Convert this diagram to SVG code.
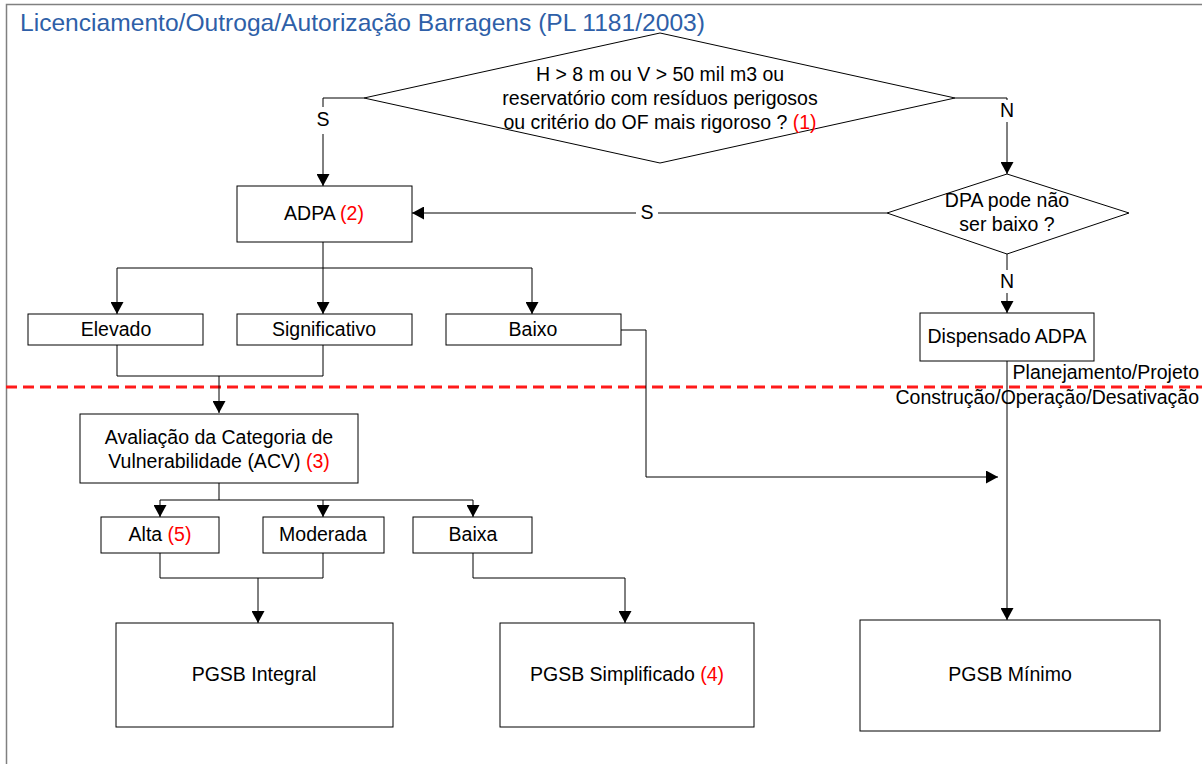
<svg xmlns="http://www.w3.org/2000/svg" width="1202" height="764" viewBox="0 0 1202 764">
  <style>
    .box { fill: #fff; stroke: #000; stroke-width: 1; }
    .ln { fill: none; stroke: #000; stroke-width: 1; }
    .arr { fill: none; stroke: #000; stroke-width: 1; marker-end: url(#ah); }
    .t { font-family: "Liberation Sans", Arial, sans-serif; font-size: 19.5px; fill: #000; text-anchor: middle; }
    .r { fill: #ff0000; }
    .title { font-family: "Liberation Sans", Arial, sans-serif; font-size: 24.6px; fill: #2e5fa8; }
    .phase { font-family: "Liberation Sans", Arial, sans-serif; font-size: 19.5px; fill: #000; text-anchor: end; }
  </style>
  <defs>
    <marker id="ah" viewBox="0 0 12 13" refX="12" refY="6.5" markerWidth="12" markerHeight="13" markerUnits="userSpaceOnUse" orient="auto">
      <path d="M0,0 L12,6.5 L0,13 z" fill="#000"/>
    </marker>
  </defs>

  <rect width="1202" height="764" fill="#fff"/>

  <!-- frame and title -->
  <g id="frame">
    <path d="M6.5,764 V4.5 H1202" fill="none" stroke="#808080" stroke-width="1.5"/>
    <text class="title" x="20" y="31">Licenciamento/Outroga/Autorização Barragens (PL 1181/2003)</text>
  </g>

  <!-- phase separator -->
  <g id="phase-line">
    <line x1="6" y1="387" x2="1202" y2="387" stroke="#ff1a1a" stroke-width="3" stroke-dasharray="11,6"/>
    <text class="phase" x="1199" y="379">Planejamento/Projeto</text>
    <text class="phase" x="1199" y="404">Construção/Operação/Desativação</text>
  </g>

  <!-- connectors -->
  <g id="connectors">
    <path class="ln" d="M364,98 H323 V107"/>
    <path class="arr" d="M323,134 V186"/>
    <path class="ln" d="M955,98 H1007 V100"/>
    <path class="arr" d="M1007,122 V174"/>
    <path class="ln" d="M887,213 H658"/>
    <path class="arr" d="M636,213 H412"/>
    <path class="ln" d="M1007,254 V270"/>
    <path class="arr" d="M1007,293 V313"/>
    <path class="ln" d="M323,242 V268 M117,268 H532"/>
    <path class="arr" d="M117,268 V314"/>
    <path class="arr" d="M323,268 V314"/>
    <path class="arr" d="M532,268 V314"/>
    <path class="ln" d="M117,345 V376 H323 V345"/>
    <path class="arr" d="M219,376 V413"/>
    <path class="arr" d="M621,330 H646 V477 H998"/>
    <path class="arr" d="M1007,361 V620"/>
    <path class="ln" d="M219,483 V500 M160,500 H473"/>
    <path class="arr" d="M160,500 V517"/>
    <path class="arr" d="M323,500 V517"/>
    <path class="arr" d="M473,500 V517"/>
    <path class="ln" d="M160,553 V578 H323 V553"/>
    <path class="arr" d="M258,578 V623"/>
    <path class="arr" d="M473,553 V578 H625 V623"/>
    <text class="t" x="323" y="126">S</text>
    <text class="t" x="1007" y="117">N</text>
    <text class="t" x="647" y="219">S</text>
    <text class="t" x="1007" y="288">N</text>
  </g>

  <g id="q-dimensoes">
    <polygon class="box" points="364,98 660,33 955,98 660,163"/>
    <text class="t" x="660" y="81">H &gt; 8 m ou V &gt; 50 mil m3 ou</text>
    <text class="t" x="660" y="105">reservatório com resíduos perigosos</text>
    <text class="t" x="660" y="129">ou critério do OF mais rigoroso ? <tspan class="r">(1)</tspan></text>
  </g>

  <g id="q-dpa">
    <polygon class="box" points="887,213 1007,174 1129,213 1007,254"/>
    <text class="t" x="1007" y="207">DPA pode não</text>
    <text class="t" x="1007" y="231">ser baixo ?</text>
  </g>

  <g id="adpa">
    <rect class="box" x="237" y="186" width="175" height="56"/>
    <text class="t" x="324" y="220">ADPA <tspan class="r">(2)</tspan></text>
  </g>

  <g id="elevado">
    <rect class="box" x="28" y="314" width="175" height="31"/>
    <text class="t" x="116" y="335.5">Elevado</text>
  </g>
  <g id="significativo">
    <rect class="box" x="237" y="314" width="175" height="31"/>
    <text class="t" x="324" y="335.5">Significativo</text>
  </g>
  <g id="baixo">
    <rect class="box" x="446" y="314" width="175" height="31"/>
    <text class="t" x="533" y="335.5">Baixo</text>
  </g>

  <g id="dispensado">
    <rect class="box" x="920" y="313" width="174" height="48"/>
    <text class="t" x="1007" y="343">Dispensado ADPA</text>
  </g>

  <g id="acv">
    <rect class="box" x="80" y="414" width="278" height="69"/>
    <text class="t" x="219" y="444">Avaliação da Categoria de</text>
    <text class="t" x="219" y="468">Vulnerabilidade (ACV) <tspan class="r">(3)</tspan></text>
  </g>

  <g id="alta">
    <rect class="box" x="101" y="517" width="118" height="36"/>
    <text class="t" x="160" y="541">Alta <tspan class="r">(5)</tspan></text>
  </g>
  <g id="moderada">
    <rect class="box" x="263" y="517" width="121" height="36"/>
    <text class="t" x="323" y="541">Moderada</text>
  </g>
  <g id="baixa">
    <rect class="box" x="413" y="517" width="119" height="36"/>
    <text class="t" x="473" y="541">Baixa</text>
  </g>

  <g id="pgsb-integral">
    <rect class="box" x="116" y="623" width="277" height="104"/>
    <text class="t" x="254" y="681">PGSB Integral</text>
  </g>
  <g id="pgsb-simplificado">
    <rect class="box" x="500" y="623" width="254" height="104"/>
    <text class="t" x="627" y="681">PGSB Simplificado <tspan class="r">(4)</tspan></text>
  </g>
  <g id="pgsb-minimo">
    <rect class="box" x="860" y="620" width="300" height="111"/>
    <text class="t" x="1010" y="681">PGSB Mínimo</text>
  </g>
</svg>
